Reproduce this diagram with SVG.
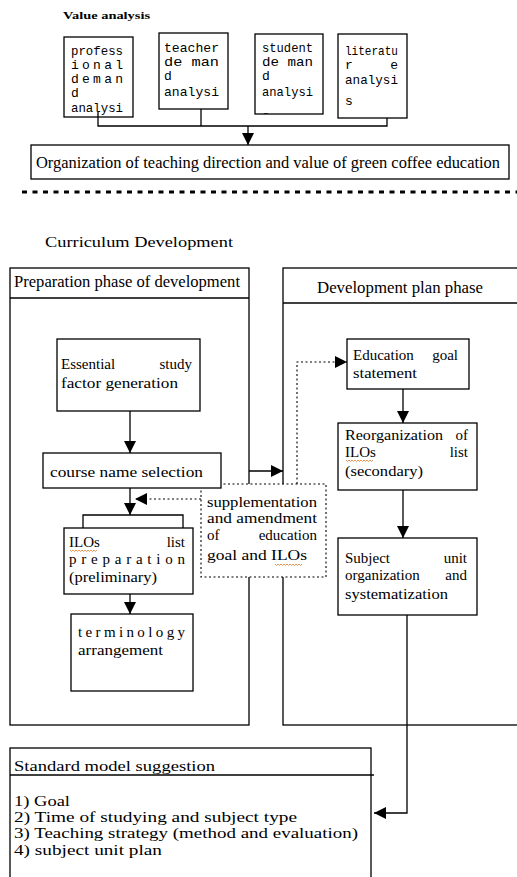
<svg xmlns="http://www.w3.org/2000/svg" width="517" height="877" viewBox="0 0 517 877">
<style>
  text { font-family: "Liberation Serif", "DejaVu Serif", serif; fill: #000; }
  .box { fill: #fff; stroke: #000; stroke-width: 1.3; }
  .frame { fill: none; stroke: #000; stroke-width: 1.3; }
  .ln { fill: none; stroke: #000; stroke-width: 1.3; }
  .dot { fill: none; stroke: #000; stroke-width: 1.1; stroke-dasharray: 2 2.5; }
  text.sm { font-family: "Liberation Mono", "DejaVu Sans Mono", monospace; font-size: 13px; }
  .md { font-size: 15px; }
  .lg { font-size: 16px; }
  .wavy { fill: none; stroke: #e07a2a; stroke-width: 0.8; }
</style>
<defs>
  <marker id="arr" markerUnits="userSpaceOnUse" markerWidth="12" markerHeight="12" refX="12" refY="6" orient="auto">
    <path d="M0,0 L12,6 L0,12 z" fill="#000"/>
  </marker>
  <clipPath id="c3"><rect x="255" y="34" width="68" height="80"/></clipPath>
</defs>

<text x="63" y="19" font-size="10" font-weight="bold" textLength="87" lengthAdjust="spacingAndGlyphs">Value analysis</text>

<g id="connectors">
  <path class="ln" d="M98,112 V126 H387 V118"/>
  <path class="ln" d="M201,109 V126"/>
  <path class="ln" d="M248,126 V145" marker-end="url(#arr)"/>
  <path d="M22,192 H517" fill="none" stroke="#000" stroke-width="3" stroke-dasharray="5 5.5"/>
  <path class="ln" d="M130,411 V453" marker-end="url(#arr)"/>
  <path class="ln" d="M130,488 V515" marker-end="url(#arr)"/>
  <path class="ln" d="M83,528 V515 H183 V528"/>
  <path class="dot" d="M201,499 H135" marker-end="url(#arr)"/>
  <path class="ln" d="M130,594 V614" marker-end="url(#arr)"/>
  <path class="ln" d="M249,471 H283" marker-end="url(#arr)"/>
  <path class="dot" d="M297,484 V362 H347" marker-end="url(#arr)"/>
  <path class="ln" d="M403,389 V423" marker-end="url(#arr)"/>
  <path class="ln" d="M403,490 V538" marker-end="url(#arr)"/>
  <path class="ln" d="M407,615 V813 H374" marker-end="url(#arr)"/>
</g>

<g id="n-professional">
  <rect class="frame" x="64" y="37" width="69" height="80"/>
  <text class="sm" x="71" y="55" textLength="52" lengthAdjust="spacingAndGlyphs">profess</text>
  <text class="sm" x="71" y="69" textLength="52" lengthAdjust="spacing">ional</text>
  <text class="sm" x="71" y="83" textLength="52" lengthAdjust="spacing">deman</text>
  <text class="sm" x="71" y="97">d</text>
  <text class="sm" x="71" y="112" textLength="52" lengthAdjust="spacingAndGlyphs">analysi</text>
</g>
<g id="n-teacher">
  <rect class="frame" x="159" y="33" width="69" height="76"/>
  <text class="sm" x="164" y="52" textLength="55" lengthAdjust="spacingAndGlyphs">teacher</text>
  <text class="sm" x="164" y="66" textLength="55" lengthAdjust="spacingAndGlyphs">de man</text>
  <text class="sm" x="164" y="80">d</text>
  <text class="sm" x="164" y="96" textLength="55" lengthAdjust="spacingAndGlyphs">analysi</text>
</g>
<g id="n-student">
  <rect class="frame" x="255" y="34" width="68" height="80"/>
  <g clip-path="url(#c3)">
    <text class="sm" x="262" y="52" textLength="51" lengthAdjust="spacingAndGlyphs">student</text>
    <text class="sm" x="262" y="66" textLength="51" lengthAdjust="spacingAndGlyphs">de man</text>
    <text class="sm" x="262" y="80">d</text>
    <text class="sm" x="262" y="96" textLength="51" lengthAdjust="spacingAndGlyphs">analysi</text>
    <text class="sm" x="262" y="120">s</text>
  </g>
</g>
<g id="n-literature">
  <rect class="frame" x="338" y="34" width="69" height="84"/>
  <text class="sm" x="345" y="55" textLength="53" lengthAdjust="spacingAndGlyphs">literatu</text>
  <text class="sm" x="345" y="69">r</text>
  <text class="sm" x="398" y="69" text-anchor="end">e</text>
  <text class="sm" x="345" y="84" textLength="53" lengthAdjust="spacingAndGlyphs">analysi</text>
  <text class="sm" x="345" y="105">s</text>
</g>
<g id="n-organization">
  <rect class="box" x="31" y="145" width="478" height="34"/>
  <text class="lg" x="36" y="168" textLength="464" lengthAdjust="spacingAndGlyphs">Organization of teaching direction and value of green coffee education</text>
</g>

<text class="md" x="45" y="247" textLength="188" lengthAdjust="spacingAndGlyphs">Curriculum Development</text>

<g id="n-preparation-phase">
  <rect class="frame" x="10" y="268" width="239" height="457"/>
  <path class="ln" d="M10,298 H249"/>
  <text class="lg" x="14" y="287" textLength="226" lengthAdjust="spacingAndGlyphs">Preparation phase of development</text>
</g>
<g id="n-plan-phase">
  <rect class="frame" x="283" y="268" width="250" height="457"/>
  <path class="ln" d="M283,303 H517"/>
  <text class="lg" x="317" y="293" textLength="166" lengthAdjust="spacingAndGlyphs">Development plan phase</text>
</g>

<g id="n-essential">
  <rect class="box" x="57" y="339" width="143" height="72"/>
  <text class="md" x="61" y="369">Essential</text>
  <text class="md" x="192" y="369" text-anchor="end">study</text>
  <text class="md" x="61" y="388" textLength="117" lengthAdjust="spacingAndGlyphs">factor generation</text>
</g>
<g id="n-supplementation">
  <rect x="201" y="484" width="125" height="93" fill="#fff" stroke="#000" stroke-width="1.1" stroke-dasharray="2 2.5"/>
  <text class="md" x="207" y="507" textLength="110" lengthAdjust="spacingAndGlyphs">supplementation</text>
  <text class="md" x="207" y="523" textLength="110" lengthAdjust="spacingAndGlyphs">and amendment</text>
  <text class="md" x="207" y="540">of</text>
  <text class="md" x="317" y="540" text-anchor="end">education</text>
  <text class="md" x="207" y="560" textLength="100" lengthAdjust="spacingAndGlyphs">goal and ILOs</text>
  <path class="wavy" d="M275,564 l1.5,1.5 l1.5,-1.5 l1.5,1.5 l1.5,-1.5 l1.5,1.5 l1.5,-1.5 l1.5,1.5 l1.5,-1.5 l1.5,1.5 l1.5,-1.5 l1.5,1.5 l1.5,-1.5 l1.5,1.5 l1.5,-1.5 l1.5,1.5 l1.5,-1.5 l1.5,1.5 l1.5,-1.5"/>
</g>
<g id="n-course">
  <rect class="box" x="43" y="453" width="178" height="35"/>
  <text class="md" x="50" y="477" textLength="153" lengthAdjust="spacingAndGlyphs">course name selection</text>
</g>
<g id="n-ilos-prelim">
  <rect class="box" x="64" y="528" width="129" height="66"/>
  <text class="md" x="69" y="547">ILOs</text>
  <text class="md" x="185" y="547" text-anchor="end">list</text>
  <path class="wavy" d="M70,550 l1.5,1.5 l1.5,-1.5 l1.5,1.5 l1.5,-1.5 l1.5,1.5 l1.5,-1.5 l1.5,1.5 l1.5,-1.5 l1.5,1.5 l1.5,-1.5 l1.5,1.5 l1.5,-1.5 l1.5,1.5 l1.5,-1.5 l1.5,1.5 l1.5,-1.5 l1.5,1.5 l1.5,-1.5"/>
  <text class="md" x="69" y="564" textLength="116" lengthAdjust="spacing">preparation</text>
  <text class="md" x="69" y="582" textLength="88" lengthAdjust="spacingAndGlyphs">(preliminary)</text>
</g>
<g id="n-terminology">
  <rect class="box" x="71" y="614" width="122" height="77"/>
  <text class="md" x="78" y="637" textLength="107" lengthAdjust="spacing">terminology</text>
  <text class="md" x="78" y="655" textLength="85" lengthAdjust="spacingAndGlyphs">arrangement</text>
</g>

<g id="n-education-goal">
  <rect class="box" x="347" y="339" width="122" height="50"/>
  <text class="md" x="353" y="360">Education</text>
  <text class="md" x="458" y="360" text-anchor="end">goal</text>
  <text class="md" x="353" y="378" textLength="64" lengthAdjust="spacingAndGlyphs">statement</text>
</g>
<g id="n-reorganization">
  <rect class="box" x="338" y="423" width="139" height="67"/>
  <text class="md" x="345" y="440" textLength="98" lengthAdjust="spacingAndGlyphs">Reorganization</text>
  <text class="md" x="468" y="440" text-anchor="end">of</text>
  <text class="md" x="345" y="457">ILOs</text>
  <text class="md" x="468" y="457" text-anchor="end">list</text>
  <path class="wavy" d="M346,460 l1.5,1.5 l1.5,-1.5 l1.5,1.5 l1.5,-1.5 l1.5,1.5 l1.5,-1.5 l1.5,1.5 l1.5,-1.5 l1.5,1.5 l1.5,-1.5 l1.5,1.5 l1.5,-1.5 l1.5,1.5 l1.5,-1.5 l1.5,1.5 l1.5,-1.5 l1.5,1.5 l1.5,-1.5"/>
  <text class="md" x="345" y="476" textLength="78" lengthAdjust="spacingAndGlyphs">(secondary)</text>
</g>
<g id="n-subject">
  <rect class="box" x="338" y="538" width="139" height="77"/>
  <text class="md" x="345" y="563">Subject</text>
  <text class="md" x="467" y="563" text-anchor="end">unit</text>
  <text class="md" x="345" y="580">organization</text>
  <text class="md" x="467" y="580" text-anchor="end">and</text>
  <text class="md" x="345" y="599" textLength="103" lengthAdjust="spacingAndGlyphs">systematization</text>
</g>

<g id="n-standard">
  <rect class="frame" x="10" y="748" width="361" height="160"/>
  <path class="ln" d="M10,775 H374"/>
  <text class="md" x="14" y="771" textLength="201" lengthAdjust="spacingAndGlyphs">Standard model suggestion</text>
  <text class="md" x="14" y="806" textLength="56" lengthAdjust="spacingAndGlyphs">1) Goal</text>
  <text class="md" x="14" y="822" textLength="283" lengthAdjust="spacingAndGlyphs">2) Time of studying and subject type</text>
  <text class="md" x="14" y="838" textLength="344" lengthAdjust="spacingAndGlyphs">3) Teaching strategy (method and evaluation)</text>
  <text class="md" x="14" y="855" textLength="148" lengthAdjust="spacingAndGlyphs">4) subject unit plan</text>
</g>
</svg>
